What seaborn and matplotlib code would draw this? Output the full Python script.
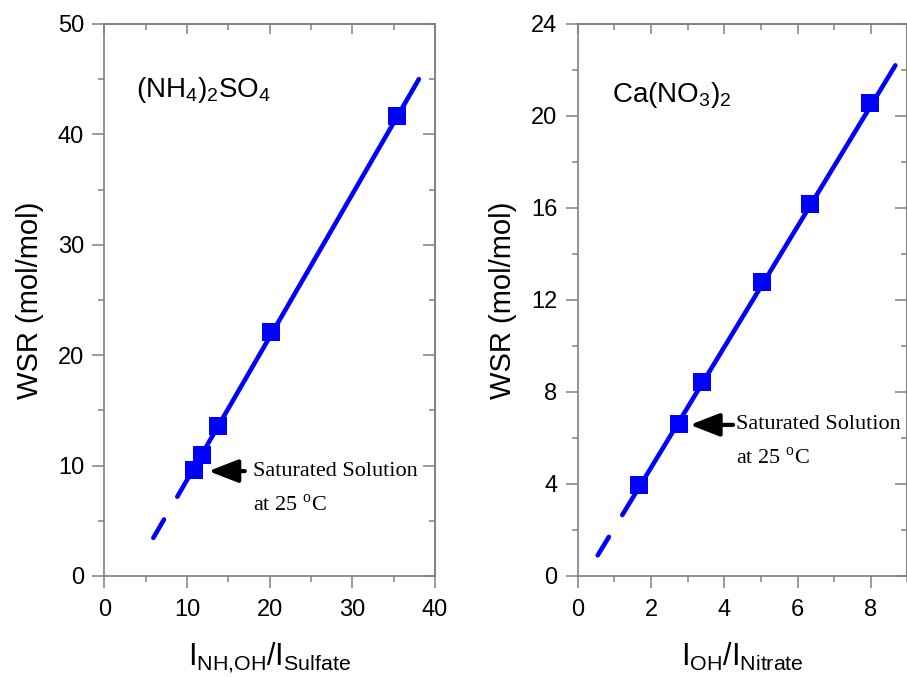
import numpy as np
import pandas as pd
import matplotlib
matplotlib.use('Agg')
import matplotlib.pyplot as plt
import seaborn as sns
from matplotlib.ticker import MultipleLocator

# data
sulfate_ratio = [10.8, 11.8, 13.8, 20.2, 35.4]
sulfate_wsr = [9.6, 11.0, 13.6, 22.1, 41.7]
sulfate_fit_dash_x = [5.93, 7.22]
sulfate_fit_dash_y = [3.45, 5.12]
sulfate_fit_x = [8.83, 38.05]
sulfate_fit_y = [7.18, 45.0]

nitrate_ratio = [1.67, 2.76, 3.40, 5.04, 6.33, 7.99]
nitrate_wsr = [3.97, 6.62, 8.42, 12.77, 16.17, 20.58]
nitrate_fit_dash_x = [0.545, 0.85]
nitrate_fit_dash_y = [0.90, 1.70]
nitrate_fit_x = [1.215, 8.67]
nitrate_fit_y = [2.65, 22.2]

sns.set_theme(style='white')
plt.rcParams['font.family'] = ['Liberation Sans', 'DejaVu Sans']
plt.rcParams['mathtext.fontset'] = 'custom'
plt.rcParams['mathtext.rm'] = 'Liberation Sans'
plt.rcParams['mathtext.it'] = 'Liberation Sans'
plt.rcParams['mathtext.sf'] = 'Liberation Serif'
plt.rcParams['text.color'] = 'black'
plt.rcParams['axes.labelcolor'] = 'black'
plt.rcParams['xtick.labelcolor'] = 'black'
plt.rcParams['ytick.labelcolor'] = 'black'

BLUE = '#0000ff'
GREY = '#808080'

fig = plt.figure(figsize=(9.07, 6.77), dpi=100)
ax1 = fig.add_axes([0.115, 0.1492, 0.3646, 0.8154])
ax2 = fig.add_axes([0.637, 0.1492, 0.3635, 0.8154])


def style_axes(ax, xmax, xmaj, xmin, ymax, ymaj, ymin):
    ax.set_xlim(0, xmax)
    ax.set_ylim(0, ymax)
    for s in ax.spines.values():
        s.set_color(GREY)
        s.set_linewidth(1.2)
        s.set_visible(True)
    ax.xaxis.set_major_locator(MultipleLocator(xmaj))
    ax.xaxis.set_minor_locator(MultipleLocator(xmin))
    ax.yaxis.set_major_locator(MultipleLocator(ymaj))
    ax.yaxis.set_minor_locator(MultipleLocator(ymin))
    ax.tick_params(which='both', direction='out', color=GREY, width=1.1,
                   labelcolor='black',
                   bottom=True, left=True, top=False, right=False)
    ax.tick_params(which='major', length=8.6, labelsize=17, pad=6)
    ax.tick_params(which='minor', length=4.3)
    ax.tick_params(axis='x', which='major', pad=8)
    # inward ticks on top and right
    top = ax.secondary_xaxis('top')
    top.xaxis.set_major_locator(MultipleLocator(xmaj))
    top.xaxis.set_minor_locator(MultipleLocator(xmin))
    top.tick_params(which='both', direction='in', color=GREY, width=1.1, labeltop=False)
    top.tick_params(which='major', length=7.5)
    top.tick_params(which='minor', length=4)
    top.spines['top'].set_color(GREY)
    top.spines['top'].set_linewidth(1.2)
    right = ax.secondary_yaxis('right')
    right.yaxis.set_major_locator(MultipleLocator(ymaj))
    right.yaxis.set_minor_locator(MultipleLocator(ymin))
    right.tick_params(which='both', direction='in', color=GREY, width=1.1, labelright=False)
    right.tick_params(which='major', length=8.6)
    right.tick_params(which='minor', length=4.3)
    right.spines['right'].set_color(GREY)
    right.spines['right'].set_linewidth(1.2)
    ax.grid(False)


def draw_panel(ax, x, y, dx, dy, fx, fy):
    sns.lineplot(x=dx, y=dy, ax=ax, color=BLUE, lw=3.3, solid_capstyle='round')
    sns.lineplot(x=fx, y=fy, ax=ax, color=BLUE, lw=3.3, solid_capstyle='round')
    sns.scatterplot(x=x, y=y, ax=ax, marker='s', s=150, color=BLUE,
                    edgecolor=BLUE, linewidth=0, zorder=5)


draw_panel(ax1, sulfate_ratio, sulfate_wsr, sulfate_fit_dash_x, sulfate_fit_dash_y,
           sulfate_fit_x, sulfate_fit_y)
draw_panel(ax2, nitrate_ratio, nitrate_wsr, nitrate_fit_dash_x, nitrate_fit_dash_y,
           nitrate_fit_x, nitrate_fit_y)

style_axes(ax1, 40, 10, 5, 50, 10, 5)
style_axes(ax2, 9, 2, 1, 24, 4, 2)

ax1.set_ylabel('WSR (mol/mol)', fontsize=21, labelpad=10)
ax2.set_ylabel('WSR (mol/mol)', fontsize=21, labelpad=10)
ax1.set_xlabel(r'I$_{\rm NH{,}OH}$/I$_{\rm Sulfate}$', fontsize=22, labelpad=14)
ax2.set_xlabel(r'I$_{\rm OH}$/I$_{\rm Nitrate}$', fontsize=22, labelpad=14)

ax1.text(0.096, 0.868, r'(NH$_4$)$_2$SO$_4$', transform=ax1.transAxes,
         fontsize=20, va='baseline', ha='left')
ax2.text(0.103, 0.859, r'Ca(NO$_3$)$_2$', transform=ax2.transAxes,
         fontsize=20, va='baseline', ha='left')

arrow = dict(arrowstyle='-|>,head_length=0.9,head_width=0.35', lw=3,
             color='black', mutation_scale=20, shrinkA=0, shrinkB=0)
serif = ['Liberation Serif', 'DejaVu Serif']

ax1.annotate('', xy=(12.6, 9.5), xytext=(17.0, 9.5), arrowprops=arrow)
ax1.text(18.0, 9.5, 'Saturated Solution', fontsize=16, family=serif, va='center')
ax1.text(18.0, 6.4, r'at 25 $^{\mathsf{o}}$C', fontsize=16, family=serif, va='center')

ax2.annotate('', xy=(3.06, 6.57), xytext=(4.24, 6.57), arrowprops=arrow)
ax2.text(4.31, 6.57, 'Saturated Solution', fontsize=16, family=serif, va='center')
ax2.text(4.31, 5.13, r'at 25 $^{\mathsf{o}}$C', fontsize=16, family=serif, va='center')

fig.savefig('out.png', dpi=100)
